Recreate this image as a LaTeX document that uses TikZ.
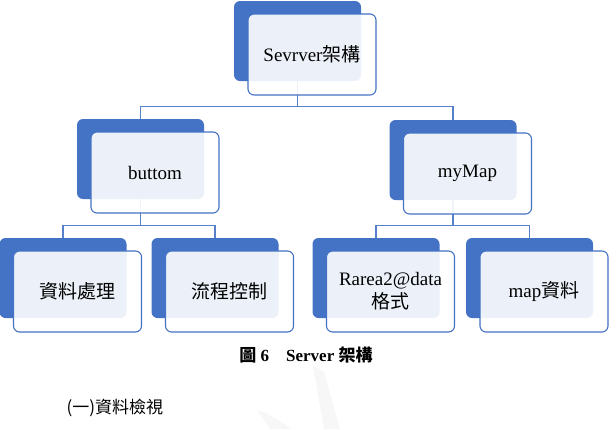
\documentclass[tikz,border=0pt]{standalone}
\usepackage{fontspec}
\setmainfont{Liberation Serif}
\newfontfamily\cjk{Noto Sans CJK TC}
\usetikzlibrary{positioning,calc}
\definecolor{boxblue}{HTML}{4472C4}
\tikzset{backbox/.style={rectangle, rounded corners=6pt, draw=none, fill=boxblue, minimum width=127pt, minimum height=80pt, inner sep=0pt},
       frontbox/.style={rectangle, rounded corners=6pt, draw=boxblue, line width=1.1pt, fill=white, fill opacity=0.9, text opacity=1, minimum width=128pt, minimum height=81pt, inner sep=2pt, align=center, text=black, font=\fontsize{19}{21}\selectfont, xshift=14.5pt, yshift=-13.5pt},
       link/.style={draw=boxblue!90, line width=1.2pt}}

\begin{document}
\begin{tikzpicture}[x=1pt, y=-1pt]
\useasboundingbox (0,0) rectangle (616,429);
\fill[gray!6] (313,366) -- (324,372) -- (340,429) -- (324,429) -- cycle;
\fill[gray!6] (257,410) -- (268,414) -- (292,429) -- (270,429) -- cycle;

\node [backbox] (topB) at (297.5,41) {};
\node [backbox] (btnB) at (140.5,159) {};
\node [backbox] (mapB) at (453,160) {};
\node [backbox] (dataB) at (63,278) {};
\node [backbox] (flowB) at (215,278) {};
\node [backbox] (rareaB) at (376,278) {};
\node [backbox] (mapdataB) at (529.5,278) {};

\draw[link] (topB.south) -- ++(0,25) -| (btnB.north);
\draw[link] (topB.south) -- ++(0,25) -| (mapB.north);
\draw[link] (btnB.south) -- ++(0,26) -| (dataB.north);
\draw[link] (btnB.south) -- ++(0,26) -| (flowB.north);
\draw[link] (mapB.south) -- ++(0,25) -| (rareaB.north);
\draw[link] (mapB.south) -- ++(0,25) -| (mapdataB.north);

\node [frontbox] (top) at (topB) {Sevrver{\cjk 架構}};
\node [frontbox] (btn) at (btnB) {buttom};
\node [frontbox] (map) at (mapB) {myMap};
\node [frontbox] (data) at (dataB) {{\cjk 資料處理}};
\node [frontbox] (flow) at (flowB) {{\cjk 流程控制}};
\node [frontbox] (rarea) at (rareaB) {Rarea2@data\\[2pt]{\cjk 格式}};
\node [frontbox] (mapdata) at (mapdataB) {map{\cjk 資料}};

\node [font=\bfseries\fontsize{17}{19}\selectfont] (caption) at (306,355) {{\cjk 圖} 6\quad Server {\cjk 架構}};
\node [anchor=west, font=\fontsize{17}{19}\selectfont] (section) at (63,408) {{\cjk (一)資料檢視}};
\end{tikzpicture}
\end{document}
